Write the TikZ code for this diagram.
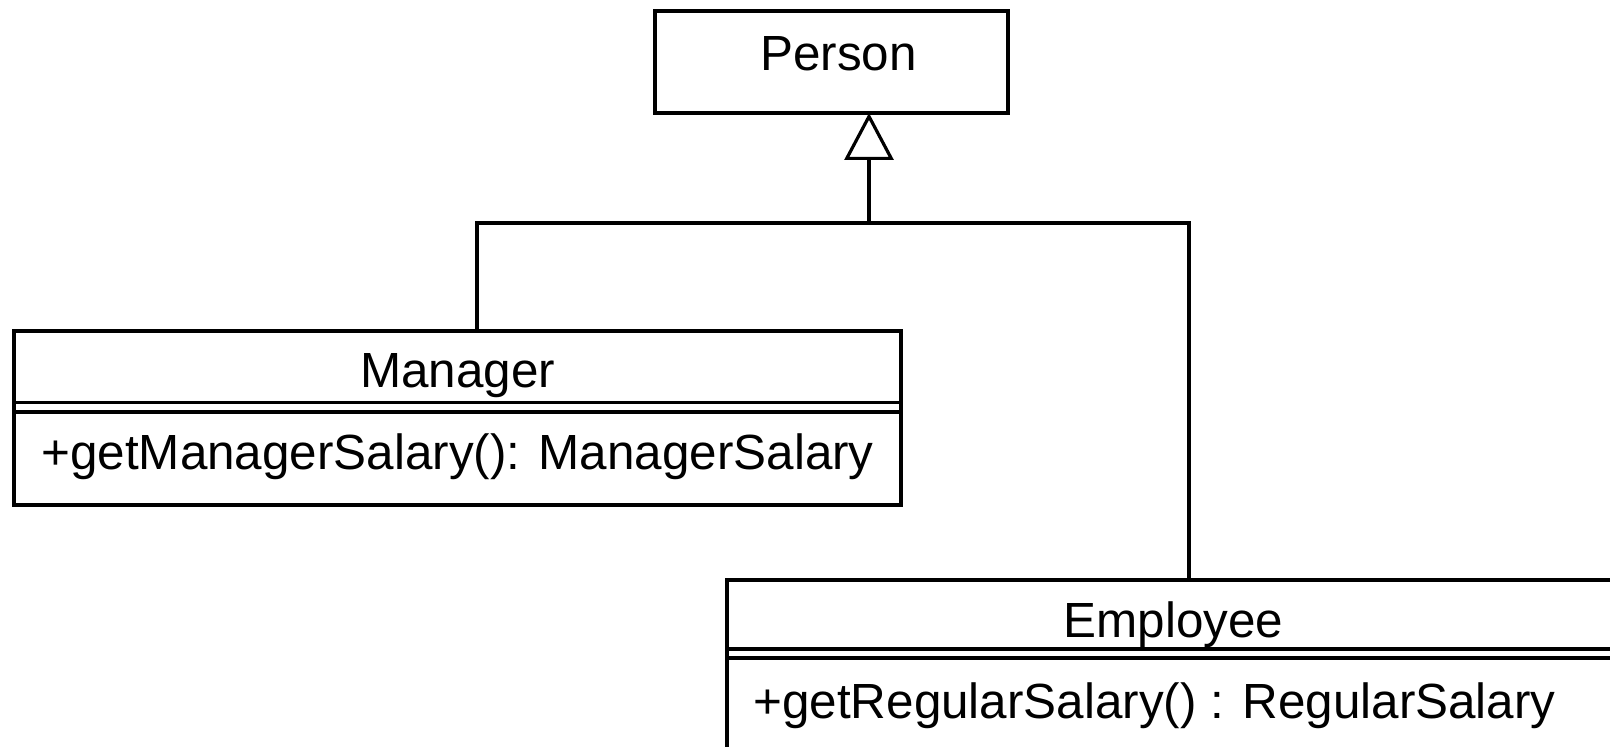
\documentclass[tikz,border=0pt]{standalone}
\usepackage{fontspec}
\setmainfont{Liberation Sans}
\usetikzlibrary{arrows.meta,calc}
\begin{document}
\begin{tikzpicture}[x=0.5pt,y=-0.5pt,
  box/.style={draw=black,line width=1.6pt,rectangle,anchor=north west,inner sep=0pt,outer sep=0pt},
  txt/.style={font=\fontsize{24.7}{30}\selectfont,inner sep=0pt},
  conn/.style={draw=black,line width=1.6pt},
  inh/.style={conn,-{Triangle[open,length=23.5pt,width=24.5pt,line width=1.6pt]}}]
\clip (0,0) rectangle (1610,747);
\fill[white] (0,0) rectangle (1610,747);
% Person
\node[box,minimum width=176.5pt,minimum height=51pt] (person) at (655,11) {};
\node[txt] (personlbl) at ($(person.north)+(7,43)$) {Person};
% Manager
\node[box,minimum width=443.5pt,minimum height=87pt] (manager) at (14,331) {};
\draw[conn] ($(manager.north west)+(0,71.5)$) -- ($(manager.north east)+(0,71.5)$);
\draw[conn] ($(manager.north west)+(0,81)$) -- ($(manager.north east)+(0,81)$);
\node[txt] (managerlbl) at ($(manager.north)+(0,45)$) {Manager};
\node[txt,anchor=west] (managerop) at ($(manager.north west)+(27,126)$) {+getManagerSalary(): ManagerSalary};
% Employee
\node[box,minimum width=443.5pt,minimum height=87pt] (employee) at (727,580) {};
\draw[conn] ($(employee.north west)+(0,69)$) -- ($(employee.north east)+(0,69)$);
\draw[conn] ($(employee.north west)+(0,78)$) -- ($(employee.north east)+(0,78)$);
\node[txt] (employeelbl) at ($(employee.north)+(3,45)$) {Employee};
\node[txt,anchor=west] (employeeop) at ($(employee.north west)+(26,126)$) {+getRegularSalary() : RegularSalary};
% connectors
\coordinate (bus) at (869,223);
\draw[conn] ($(manager.north west)+(463,0)$) |- (bus);
\draw[conn] ($(employee.north west)+(462,0)$) |- (bus);
\draw[inh] (bus) -- (person.south -| bus);
\end{tikzpicture}
\end{document}
